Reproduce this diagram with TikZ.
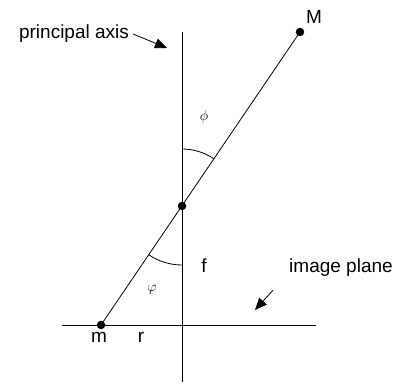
\documentclass[tikz,border=0pt]{standalone}
\usepackage{fontspec}
\setmainfont{Liberation Sans}
\usetikzlibrary{arrows.meta, positioning, calc}

\begin{document}
\begin{tikzpicture}[x=1pt, y=1pt, line width=0.8pt,
   every node/.style={font=\fontsize{19}{21}\selectfont, inner sep=0pt},
   dot/.style={circle, fill=black, minimum size=8.5pt, inner sep=0pt},
   ang/.style={font=\fontsize{14}{16}\selectfont},
   pointer/.style={-{Triangle[length=12pt, width=10pt]}, line width=0.8pt}]
  \useasboundingbox (0,0) rectangle (399,383);

  % axis, image plane and the ray
  \coordinate (axtop) at (182,351);
  \coordinate (axbot) at (182,1);
  \coordinate (plleft) at (62,58);
  \coordinate (plright) at (316,58);
  \draw (axtop) -- (axbot);
  \draw (plleft) -- (plright);

  \node[dot] (m) at (101,58) {};
  \node[dot] (O) at (182,177) {};
  \node[dot] (M) at (300,351) {};
  \draw (m.center) -- (M.center);

  % angles
  \draw ($(O)+(0,57)$) arc[start angle=90, end angle=55.75, radius=57];
  \draw ($(O)+(235.75:59)$) arc[start angle=235.75, end angle=270, radius=59];
  \node[ang] (phi) at (204,266) {$\phi$};
  \node[ang] (vphi) at (152,93) {$\varphi$};

  % labels
  \node[anchor=base] (lM) at (314,359) {M};
  \node[anchor=base] (lm) at (99,40) {m};
  \node[anchor=base] (lr) at (141,40) {r};
  \node[anchor=base] (lf) at (204,110) {f};
  \node[anchor=base] (lax) at (74,344) {principal axis};
  \node[anchor=base] (lpl) at (341,110) {image plane};

  \coordinate (axtip) at (167,335);
  \coordinate (pltip) at (255,73);
  \draw[pointer] ($(lax.east)+(4,0)$) -- (axtip);
  \draw[pointer] ($(lpl.south west)+(-16,-13)$) -- (pltip);
\end{tikzpicture}
\end{document}
